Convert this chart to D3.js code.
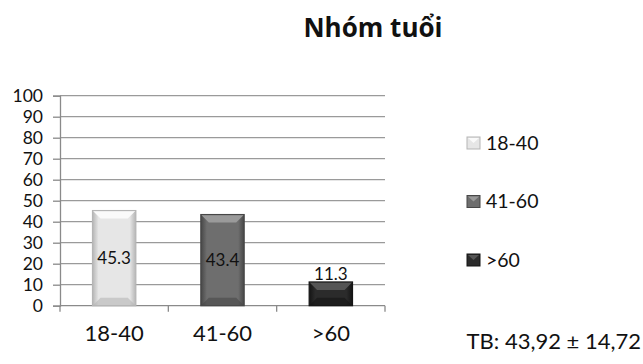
<!DOCTYPE html>
<html>
<head>
<meta charset="utf-8">
<script src="https://cdn.jsdelivr.net/npm/d3@7"></script>
<style>
  html, body { margin: 0; padding: 0; background: #fff; }
  svg { display: block; }
</style>
</head>
<body>
<svg id="chart" width="643" height="364"></svg>
<script>
const categories = ["18-40", "41-60", ">60"];
const values = [45.3, 43.4, 11.3];
const yTicks = [0, 10, 20, 30, 40, 50, 60, 70, 80, 90, 100];
const titleText = "Nhóm tuổi";
const noteText = "TB: 43,92 ± 14,72";

const fills = ["#e6e6e6", "#6e6e6e", "#2b2b2b"];
const lights = ["#fafafa", "#9a9a9a", "#555555"];
const darks = ["#b5b5b5", "#474747", "#141414"];

const svg = d3.select("#chart");
const font = "Lato, 'Open Sans', sans-serif";

const x = d3.scaleBand().domain(categories).range([60, 385]).paddingInner(0.6).paddingOuter(0.3);
const y = d3.scaleLinear().domain([0, 100]).range([305.7, 95.7]);

// gridlines
svg.append("g").selectAll("line").data(yTicks.filter(d => d > 0)).join("line")
  .attr("x1", 60).attr("x2", 385)
  .attr("y1", d => y(d)).attr("y2", d => y(d))
  .attr("stroke", "#9a9a9a").attr("stroke-width", 1.3);

// y axis
const yAxis = svg.append("g").attr("transform", "translate(60,0)")
  .call(d3.axisLeft(y).tickValues(yTicks).tickSize(7).tickPadding(10));
yAxis.select(".domain").attr("stroke", "#8a8a8a").attr("stroke-width", 1.3);
yAxis.selectAll(".tick line").attr("stroke", "#8a8a8a").attr("stroke-width", 1.3);
yAxis.selectAll("text").attr("font-family", font).attr("font-size", 17.5).attr("fill", "#111");

// x axis with ticks between categories
const xAxis = svg.append("g").attr("transform", `translate(0,${y(0)})`);
xAxis.append("line").attr("x1", 60).attr("x2", 385).attr("stroke", "#8a8a8a").attr("stroke-width", 1.3);
const bounds = d3.range(categories.length + 1).map(i => 60 + i * (325 / categories.length));
xAxis.selectAll("line.tk").data(bounds).join("line").attr("class", "tk")
  .attr("x1", d => d).attr("x2", d => d).attr("y1", 0).attr("y2", 6)
  .attr("stroke", "#8a8a8a").attr("stroke-width", 1.3);
xAxis.selectAll("text").data(categories).join("text")
  .attr("x", (d, i) => (bounds[i] + bounds[i + 1]) / 2)
  .attr("y", 35.5)
  .attr("text-anchor", "middle")
  .attr("font-family", font).attr("font-size", 22).attr("fill", "#111")
  .text(d => d);

// gradients for bevel bars
const defs = svg.append("defs");
categories.forEach((c, i) => {
  const g = defs.append("linearGradient").attr("id", "g" + i).attr("x1", 0).attr("x2", 1).attr("y1", 0).attr("y2", 0);
  g.append("stop").attr("offset", "0%").attr("stop-color", darks[i]);
  g.append("stop").attr("offset", "14%").attr("stop-color", fills[i]);
  g.append("stop").attr("offset", "86%").attr("stop-color", fills[i]);
  g.append("stop").attr("offset", "100%").attr("stop-color", darks[i]);
});

const bev = 8;
const bars = svg.append("g").selectAll("g").data(values).join("g");
bars.each(function (v, i) {
  const gsel = d3.select(this);
  const x0 = x(categories[i]), w = x.bandwidth();
  const y0 = y(v), y1 = y(0), h = y1 - y0;
  const b = Math.min(bev, h / 3);
  gsel.append("rect").attr("x", x0).attr("y", y0).attr("width", w).attr("height", h)
    .attr("fill", `url(#g${i})`);
  // top bevel
  gsel.append("polygon")
    .attr("points", `${x0},${y0} ${x0 + w},${y0} ${x0 + w - b},${y0 + b} ${x0 + b},${y0 + b}`)
    .attr("fill", lights[i]);
  // bottom bevel
  gsel.append("polygon")
    .attr("points", `${x0},${y1} ${x0 + w},${y1} ${x0 + w - b},${y1 - b} ${x0 + b},${y1 - b}`)
    .attr("fill", darks[i]).attr("opacity", 0.6);
  gsel.append("rect").attr("x", x0).attr("y", y0).attr("width", w).attr("height", h)
    .attr("fill", "none").attr("stroke", darks[i]).attr("stroke-width", 1.2);
});

// value labels
svg.append("g").selectAll("text").data(values).join("text")
  .attr("x", (d, i) => x(categories[i]) + x.bandwidth() / 2)
  .attr("y", d => d > 20 ? (y(d) + y(0)) / 2 + 6 : y(d) - 2)
  .attr("text-anchor", "middle")
  .attr("font-family", font).attr("font-size", 17).attr("fill", "#111")
  .text(d => d.toFixed(1));

// title
svg.append("text").attr("x", 373).attr("y", 36.5).attr("text-anchor", "middle")
  .attr("font-family", "'Open Sans', sans-serif").attr("font-weight", "bold").attr("font-size", 26)
  .attr("fill", "#111").text(titleText);

// legend
const leg = svg.append("g").selectAll("g").data(categories).join("g")
  .attr("transform", (d, i) => `translate(467,${143 + i * 58.5})`);
leg.append("rect").attr("x", 0).attr("y", -6).attr("width", 13).attr("height", 12)
  .attr("fill", (d, i) => fills[i]).attr("stroke", (d, i) => darks[i]);
leg.append("polygon").attr("points", "1,-5 12,-5 6.5,0")
  .attr("fill", (d, i) => lights[i]);
leg.append("text").attr("x", 19).attr("y", 6.5)
  .attr("font-family", font).attr("font-size", 19.5).attr("fill", "#111")
  .text(d => d);

// mean note, right-aligned to the page edge
svg.append("text").attr("x", 641).attr("y", 349).attr("text-anchor", "end")
  .attr("font-family", font).attr("font-size", 22).attr("fill", "#111")
  .text(noteText);
</script>
</body>
</html>
